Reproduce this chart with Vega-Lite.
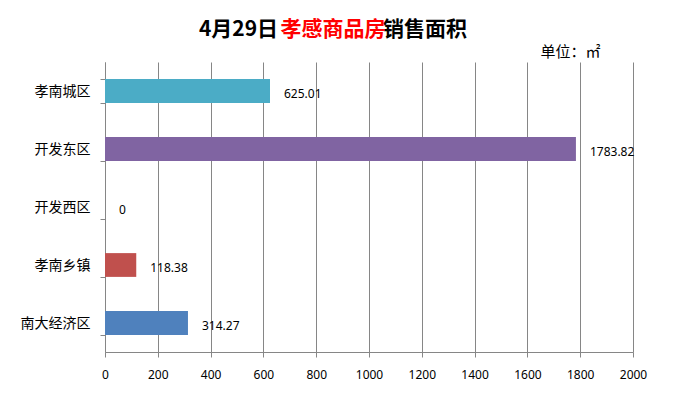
{
  "$schema": "https://vega.github.io/schema/vega-lite/v6.json",
  "autosize": {"type": "none"},
  "width": 528,
  "height": 290,
  "padding": {"left": 105, "top": 62, "right": 40, "bottom": 44},
  "background": "white",
  "title": {
    "text": "4月29日　　　　　销售面积",
    "subtitle": "孝感商品房\u00a0",
    "anchor": "middle",
    "dx": -36,
    "offset": 4,
    "font": "Noto Sans CJK SC",
    "fontSize": 21,
    "fontWeight": "bold",
    "color": "black",
    "subtitleFont": "Noto Sans CJK SC",
    "subtitleFontSize": 21,
    "subtitleFontWeight": "bold",
    "subtitleColor": "#FF0000",
    "subtitlePadding": -21
  },
  "data": {
    "values": [
      {"area": "孝南城区", "value": 625.01, "label": "625.01"},
      {"area": "开发东区", "value": 1783.82, "label": "1783.82"},
      {"area": "开发西区", "value": 0, "label": "0"},
      {"area": "孝南乡镇", "value": 118.38, "label": "118.38"},
      {"area": "南大经济区", "value": 314.27, "label": "314.27"}
    ]
  },
  "encoding": {
    "y": {
      "field": "area",
      "type": "nominal",
      "sort": null,
      "scale": {"paddingInner": 0.59, "paddingOuter": 0.295},
      "axis": {
        "title": "单位：㎡",
        "titleFont": "Noto Sans CJK SC",
        "titleFontSize": 15,
        "titleFontWeight": "normal",
        "titleColor": "black",
        "titleAngle": 0,
        "titleAnchor": null,
        "titleAlign": "center",
        "titleBaseline": "middle",
        "titleX": 465,
        "titleY": -11,
        "labelFont": "Noto Sans CJK SC",
        "labelFontSize": 14,
        "labelColor": "black",
        "labelPadding": 10,
        "tickBand": "extent",
        "tickSize": 5,
        "tickColor": "#868686",
        "domainColor": "#868686",
        "grid": false
      }
    },
    "x": {
      "field": "value",
      "type": "quantitative",
      "scale": {"domain": [0, 2000], "nice": false},
      "axis": {
        "title": null,
        "values": [0, 200, 400, 600, 800, 1000, 1200, 1400, 1600, 1800, 2000],
        "format": "d",
        "labelFlush": false,
        "labelBound": false,
        "labelFont": "Noto Sans",
        "labelFontSize": 12,
        "labelColor": "black",
        "labelPadding": 12,
        "tickSize": 5,
        "tickColor": "#868686",
        "domainColor": "#868686",
        "grid": true,
        "gridColor": "#868686",
        "gridOpacity": 1
      }
    }
  },
  "layer": [
    {
      "mark": {"type": "bar"},
      "encoding": {
        "color": {
          "field": "area",
          "type": "nominal",
          "scale": {
            "domain": ["孝南城区", "开发东区", "开发西区", "孝南乡镇", "南大经济区"],
            "range": ["#4BACC6", "#8064A2", "#9BBB59", "#C0504D", "#4F81BD"]
          },
          "legend": null
        }
      }
    },
    {
      "mark": {"type": "text", "align": "left", "baseline": "middle", "dx": 14, "dy": 3, "font": "Noto Sans", "fontSize": 12, "color": "black"},
      "encoding": {"text": {"field": "label", "type": "nominal"}}
    }
  ],
  "config": {"view": {"stroke": null}}
}
